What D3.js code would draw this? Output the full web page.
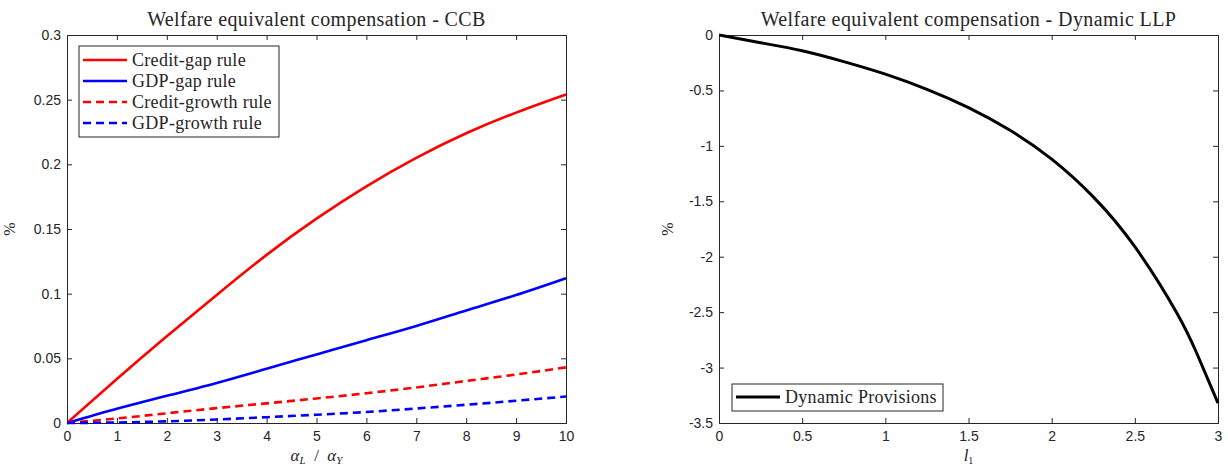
<!DOCTYPE html>
<html>
<head>
<meta charset="utf-8">
<script src="https://cdn.jsdelivr.net/npm/d3@7"></script>
<style>
  html, body { margin: 0; padding: 0; background: #fff; }
  svg { display: block; }
  .tick text { font-family: "Liberation Sans", Arial, sans-serif; font-size: 14px; fill: #262626; }
  .serif { font-family: "Liberation Serif", "DejaVu Serif", serif; fill: #262626; }
</style>
</head>
<body>
<svg id="chart" width="1228" height="470"></svg>
<script>
// ---- CCB panel: welfare equivalent compensation vs alpha_L / alpha_Y ----
const ratioX = [0, 1, 2, 3, 4, 5, 6, 7, 8, 9, 10];
const creditGap    = [0, 0.034, 0.067, 0.099, 0.130, 0.158, 0.183, 0.205, 0.224, 0.240, 0.254];
const gdpGap       = [0, 0.011, 0.021, 0.031, 0.042, 0.053, 0.064, 0.075, 0.087, 0.099, 0.112];
const creditGrowth = [0, 0.0035, 0.0075, 0.0115, 0.0152, 0.019, 0.023, 0.0275, 0.0325, 0.0375, 0.043];
const gdpGrowth    = [0, 0.0004, 0.0013, 0.0027, 0.0045, 0.0064, 0.0085, 0.0112, 0.0141, 0.0172, 0.0205];
const ccbXTicks = [0, 1, 2, 3, 4, 5, 6, 7, 8, 9, 10];
const ccbYTicks = [0, 0.05, 0.1, 0.15, 0.2, 0.25, 0.3];

// ---- Dynamic LLP panel: welfare equivalent compensation vs l_1 ----
const l1X      = [0, 0.25, 0.5, 0.75, 1.0, 1.25, 1.5, 1.75, 2.0, 2.25, 2.5, 2.75, 2.875, 3.0];
const dynProv  = [0, -0.07, -0.142, -0.24, -0.353, -0.49, -0.655, -0.86, -1.12, -1.46, -1.91, -2.5, -2.88, -3.32];
const llpXTicks = [0, 0.5, 1, 1.5, 2, 2.5, 3];
const llpYTicks = [0, -0.5, -1, -1.5, -2, -2.5, -3, -3.5];

const svg = d3.select("#chart");
const axisColor = "#262626";

function panel(cfg) {
  const g = svg.append("g");
  const x = d3.scaleLinear().domain(cfg.xDomain).range([cfg.left, cfg.right]);
  const y = d3.scaleLinear().domain(cfg.yDomain).range([cfg.bottom, cfg.top]);
  const fmt = d => String(d);

  // bottom / left axes with inward ticks
  const bx = g.append("g").attr("transform", `translate(0,${cfg.bottom})`)
    .call(d3.axisBottom(x).tickValues(cfg.xTicks).tickSize(-5).tickPadding(10).tickFormat(fmt));
  const ly = g.append("g").attr("transform", `translate(${cfg.left},0)`)
    .call(d3.axisLeft(y).tickValues(cfg.yTicks).tickSize(-5).tickPadding(6).tickFormat(fmt));
  // mirrored ticks on top / right
  const tx = g.append("g").attr("transform", `translate(0,${cfg.top})`)
    .call(d3.axisTop(x).tickValues(cfg.xTicks).tickSize(-5).tickFormat(""));
  const ry = g.append("g").attr("transform", `translate(${cfg.right},0)`)
    .call(d3.axisRight(y).tickValues(cfg.yTicks).tickSize(-5).tickFormat(""));
  [bx, ly, tx, ry].forEach(a => {
    a.selectAll("path.domain").attr("stroke", axisColor).attr("stroke-width", 1);
    a.selectAll(".tick line").attr("stroke", axisColor);
  });
  bx.selectAll(".tick text").attr("dy", "0.6em");

  // series
  const clip = "clip-" + cfg.id;
  g.append("clipPath").attr("id", clip).append("rect")
    .attr("x", cfg.left).attr("y", cfg.top - 2)
    .attr("width", cfg.right - cfg.left + 2).attr("height", cfg.bottom - cfg.top + 4);
  cfg.series.forEach(s => {
    const line = d3.line().x((d, i) => x(s.xs[i])).y(d => y(d)).curve(d3.curveNatural);
    g.append("path").datum(s.values)
      .attr("clip-path", `url(#${clip})`)
      .attr("d", line).attr("fill", "none")
      .attr("stroke", s.color).attr("stroke-width", s.width)
      .attr("stroke-dasharray", s.dash || null);
  });

  // title
  g.append("text").attr("class", "serif")
    .attr("x", (cfg.left + cfg.right) / 2).attr("y", 26)
    .attr("text-anchor", "middle").attr("font-size", 20).attr("letter-spacing", 0.4)
    .text(cfg.title);

  // y label
  g.append("text").attr("class", "serif")
    .attr("transform", `translate(${cfg.ylabelX},${(cfg.top + cfg.bottom) / 2}) rotate(-90)`)
    .attr("text-anchor", "middle").attr("font-size", 16).attr("fill", "#666")
    .text("%");

  // legend
  const lg = cfg.legend;
  g.append("rect").attr("x", lg.x).attr("y", lg.y).attr("width", lg.w).attr("height", lg.h)
    .attr("fill", "#fff").attr("stroke", axisColor).attr("stroke-width", 1);
  cfg.series.forEach((s, i) => {
    const yy = lg.y + lg.first + i * lg.step;
    g.append("line").attr("x1", lg.x + 4).attr("x2", lg.x + 48).attr("y1", yy).attr("y2", yy)
      .attr("stroke", s.color).attr("stroke-width", s.width).attr("stroke-dasharray", s.dash || null);
    g.append("text").attr("class", "serif").attr("x", lg.x + 53).attr("y", yy)
      .attr("dy", "0.33em").attr("font-size", 18).attr("letter-spacing", 0.3).text(s.name);
  });
  return { g, x, y };
}

panel({
  id: "ccb", left: 67, right: 566, top: 35, bottom: 423,
  xDomain: [0, 10], yDomain: [0, 0.3], xTicks: ccbXTicks, yTicks: ccbYTicks,
  title: "Welfare equivalent compensation - CCB", ylabelX: 15,
  series: [
    { name: "Credit-gap rule", xs: ratioX, values: creditGap, color: "#ff0000", width: 2.6 },
    { name: "GDP-gap rule", xs: ratioX, values: gdpGap, color: "#0000ff", width: 2.6 },
    { name: "Credit-growth rule", xs: ratioX, values: creditGrowth, color: "#ff0000", width: 2.6, dash: "8,5" },
    { name: "GDP-growth rule", xs: ratioX, values: gdpGrowth, color: "#0000ff", width: 2.6, dash: "8,5" }
  ],
  legend: { x: 79, y: 46, w: 200, h: 91, first: 14, step: 21 }
});

panel({
  id: "llp", left: 719, right: 1218, top: 35, bottom: 423,
  xDomain: [0, 3], yDomain: [-3.5, 0], xTicks: llpXTicks, yTicks: llpYTicks,
  title: "Welfare equivalent compensation - Dynamic LLP", ylabelX: 673,
  series: [
    { name: "Dynamic Provisions", xs: l1X, values: dynProv, color: "#000000", width: 3 }
  ],
  legend: { x: 732, y: 384, w: 211, h: 27, first: 13, step: 21 }
});

// x-axis labels (math italic)
const xl1 = svg.append("text").attr("class", "serif").attr("font-size", 17)
  .attr("x", (67 + 566) / 2).attr("y", 461).attr("text-anchor", "middle").attr("fill", "#666");
xl1.append("tspan").attr("font-style", "italic").text("α");
xl1.append("tspan").attr("font-style", "italic").attr("font-size", 11).attr("dy", 3).text("L");
xl1.append("tspan").attr("dy", -3).text("\u2002/\u2002");
xl1.append("tspan").attr("font-style", "italic").text("α");
xl1.append("tspan").attr("font-style", "italic").attr("font-size", 11).attr("dy", 3).text("Y");

const xl2 = svg.append("text").attr("class", "serif").attr("font-size", 17)
  .attr("x", (719 + 1218) / 2).attr("y", 461).attr("text-anchor", "middle").attr("fill", "#666");
xl2.append("tspan").attr("font-style", "italic").text("l");
xl2.append("tspan").attr("font-size", 10).attr("dy", 3).text("1");
</script>
</body>
</html>
